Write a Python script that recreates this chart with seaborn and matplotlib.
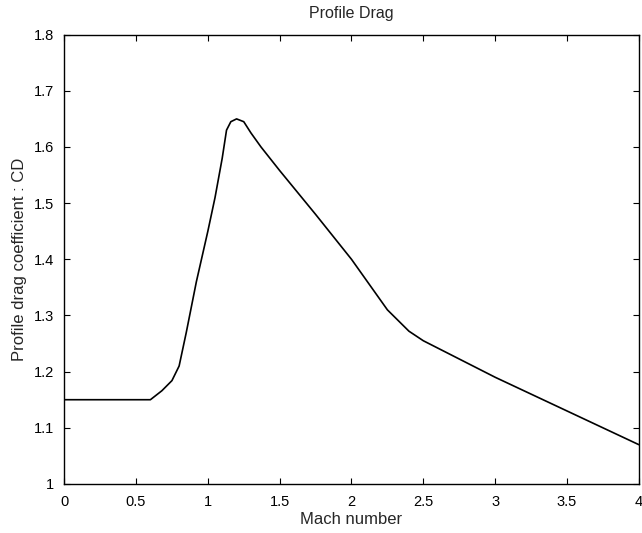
import matplotlib
matplotlib.use("Agg")
import matplotlib.pyplot as plt
import seaborn as sns
import pandas as pd

# values
mach = [0.0, 0.6, 0.68, 0.75, 0.8, 0.85, 0.92, 1.0, 1.05, 1.1, 1.13, 1.16,
        1.2, 1.25, 1.3, 1.37, 1.5, 1.75, 2.0, 2.25, 2.4, 2.5, 3.0, 3.5, 4.0]
cd = [1.15, 1.15, 1.166, 1.184, 1.21, 1.27, 1.36, 1.45, 1.51, 1.58, 1.63, 1.645,
      1.65, 1.645, 1.625, 1.60, 1.558, 1.48, 1.40, 1.31, 1.272, 1.255, 1.19, 1.13, 1.07]

xticks = [0, 0.5, 1, 1.5, 2, 2.5, 3, 3.5, 4]
xticklabels = ["0", "0.5", "1", "1.5", "2", "2.5", "3", "3.5", "4"]
yticks = [1, 1.1, 1.2, 1.3, 1.4, 1.5, 1.6, 1.7, 1.8]
yticklabels = ["1", "1.1", "1.2", "1.3", "1.4", "1.5", "1.6", "1.7", "1.8"]

df = pd.DataFrame({"Mach": mach, "CD": cd})

sns.set_style("ticks")
plt.rcParams['font.family'] = ['Liberation Sans', 'DejaVu Sans']
plt.rcParams.update({'font.size': 10})

fig = plt.figure(figsize=(6.42, 5.33), dpi=100)
ax = fig.add_subplot(111)
fig.subplots_adjust(left=0.1, right=0.995, top=0.935, bottom=0.092)

sns.lineplot(data=df, x="Mach", y="CD", color="black", linewidth=1.2, ax=ax)

ax.set_xlim(0, 4)
ax.set_ylim(1, 1.8)
ax.set_xticks(xticks)
ax.set_xticklabels(xticklabels)
ax.set_yticks(yticks)
ax.set_yticklabels(yticklabels)
ax.tick_params(direction="in", top=True, right=True, length=4, width=0.8,
               labelsize=10.5, colors="black")
ax.tick_params(axis="x", pad=8)
ax.tick_params(axis="y", pad=7)
for s in ax.spines.values():
    s.set_color("black")
    s.set_linewidth(1.0)

ax.set_title("Profile Drag", fontsize=11.5, pad=12)
ax.set_xlabel("Mach number", fontsize=12, labelpad=2)
ax.set_ylabel("Profile drag coefficient : CD", fontsize=12, labelpad=5)

fig.savefig("out.png", dpi=100)
